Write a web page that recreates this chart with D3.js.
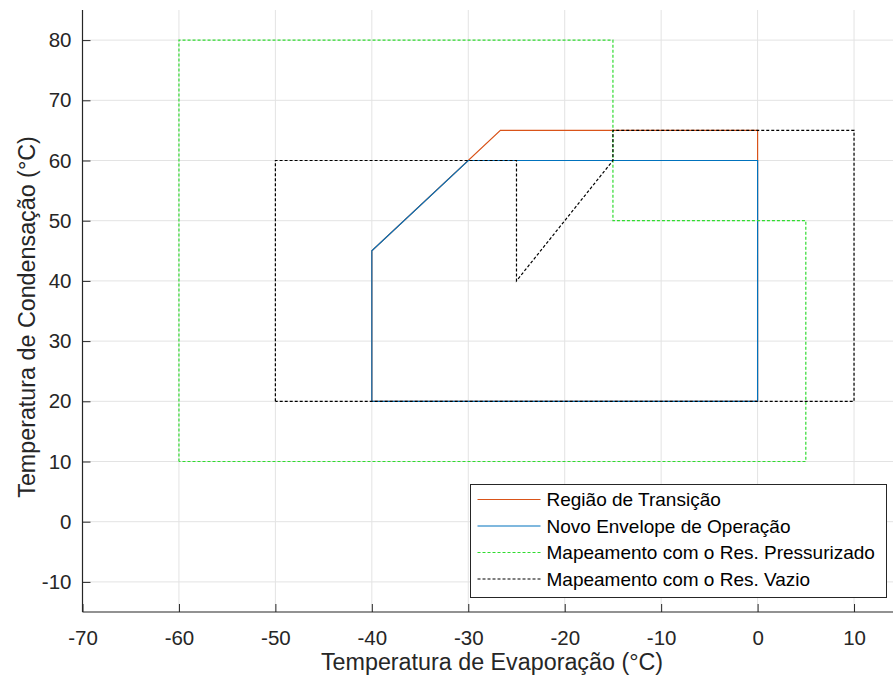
<!DOCTYPE html>
<html>
<head>
<meta charset="utf-8">
<script src="https://cdn.jsdelivr.net/npm/d3@7"></script>
<style>
  html, body { margin: 0; padding: 0; background: #fff; }
  svg { display: block; font-family: Arial, "Liberation Sans", Helvetica, sans-serif; }
</style>
</head>
<body>
<svg id="chart" width="893" height="682"></svg>
<script>
// Operating envelopes: evaporating temperature (x, °C) vs condensing temperature (y, °C)
const transicaoX = [-40, -40, -26.67, 0, 0, -40];
const transicaoY = [20, 45, 65, 65, 20, 20];

const envelopeX = [-40, -40, -30, 0, 0, -40];
const envelopeY = [20, 45, 60, 60, 20, 20];

const pressurizadoX = [-60, -60, -15, -15, 5, 5, -60];
const pressurizadoY = [10, 80, 80, 50, 50, 10, 10];

const vazioX = [-50, -50, -25, -25, -15, -15, 10, 10, -50];
const vazioY = [20, 60, 60, 40, 60, 65, 65, 20, 20];

const xTicks = [-70, -60, -50, -40, -30, -20, -10, 0, 10];
const yTicks = [-10, 0, 10, 20, 30, 40, 50, 60, 70, 80];

const seriesNames = [
  "Região de Transição",
  "Novo Envelope de Operação",
  "Mapeamento com o Res. Pressurizado",
  "Mapeamento com o Res. Vazio"
];

const series = [
  { name: seriesNames[0], xs: transicaoX, ys: transicaoY, color: "#D95319", dash: null },
  { name: seriesNames[1], xs: envelopeX, ys: envelopeY, color: "#0072BD", dash: null },
  { name: seriesNames[2], xs: pressurizadoX, ys: pressurizadoY, color: "#2fdc2f", dash: "3,2" },
  { name: seriesNames[3], xs: vazioX, ys: vazioY, color: "#000000", dash: "3,2" }
];

const svg = d3.select("#chart");
const plot = { left: 82.5, right: 893, top: 10, bottom: 612 };

const x = d3.scaleLinear().domain([-70, 14.04]).range([plot.left, plot.right]);
const y = d3.scaleLinear().domain([-15, 85]).range([plot.bottom, plot.top]);

const axisColor = "#262626";
const gridColor = "#e3e3e3";
const fontFam = "Arial, 'Liberation Sans', sans-serif";

// grid
const grid = svg.append("g");
grid.selectAll("line.vx").data(xTicks).join("line")
  .attr("x1", d => x(d)).attr("x2", d => x(d))
  .attr("y1", plot.top).attr("y2", plot.bottom)
  .attr("stroke", gridColor).attr("stroke-width", 1);
grid.selectAll("line.hy").data(yTicks).join("line")
  .attr("y1", d => y(d)).attr("y2", d => y(d))
  .attr("x1", plot.left).attr("x2", plot.right)
  .attr("stroke", gridColor).attr("stroke-width", 1);

// data lines
svg.append("clipPath").attr("id", "plotclip").append("rect")
  .attr("x", plot.left).attr("y", plot.top)
  .attr("width", plot.right - plot.left).attr("height", plot.bottom - plot.top);

const lineGen = d3.line().x(d => x(d[0])).y(d => y(d[1]));
const linesG = svg.append("g").attr("clip-path", "url(#plotclip)");
series.forEach(s => {
  const pts = s.xs.map((v, i) => [v, s.ys[i]]);
  linesG.append("path")
    .attr("d", lineGen(pts))
    .attr("fill", "none")
    .attr("stroke", s.color)
    .attr("stroke-width", 1.2)
    .attr("stroke-dasharray", s.dash)
    .attr("stroke-linejoin", "miter");
});

// axes
const fmt = d => String(d);
const xAxis = d3.axisBottom(x).tickValues(xTicks).tickSize(-8).tickPadding(18).tickFormat(fmt);
const yAxis = d3.axisLeft(y).tickValues(yTicks).tickSize(-8).tickPadding(11).tickFormat(fmt);

const gx = svg.append("g").attr("transform", `translate(0,${plot.bottom})`).call(xAxis);
const gy = svg.append("g").attr("transform", `translate(${plot.left},0)`).call(yAxis);

[gx, gy].forEach(g => {
  g.attr("font-family", fontFam);
  g.select(".domain").attr("stroke", axisColor).attr("stroke-width", 1.2);
  g.selectAll(".tick line").attr("stroke", axisColor).attr("stroke-width", 1);
  g.selectAll(".tick text").attr("fill", axisColor).attr("font-size", 20.5)
    .attr("font-family", fontFam);
});
gx.select(".domain").attr("d", `M${plot.left},0H${plot.right}`);
gy.select(".domain").attr("d", `M0,${plot.top}V${plot.bottom}`);
gx.selectAll(".tick text").attr("dy", "0.71em");

// axis titles
svg.append("text")
  .attr("x", 492).attr("y", 670)
  .attr("text-anchor", "middle").attr("font-size", 23.3).attr("fill", axisColor)
  .text("Temperatura de Evaporação (°C)");
svg.append("text")
  .attr("transform", "translate(35,317) rotate(-90)")
  .attr("text-anchor", "middle").attr("font-size", 23.3).attr("fill", axisColor)
  .text("Temperatura de Condensação (°C)");

// legend
const lg = svg.append("g").attr("transform", "translate(470.5,484.5)");
lg.append("rect").attr("width", 416).attr("height", 113)
  .attr("fill", "#fff").attr("stroke", "#262626").attr("stroke-width", 1);
series.forEach((s, i) => {
  const cy = 15 + i * 26.5;
  lg.append("line").attr("x1", 7).attr("x2", 70).attr("y1", cy).attr("y2", cy)
    .attr("stroke", s.color).attr("stroke-width", 1.2).attr("stroke-dasharray", s.dash);
  lg.append("text").attr("x", 76).attr("y", cy).attr("dy", "0.35em")
    .attr("font-size", 19).attr("fill", "#000").text(s.name);
});
</script>
</body>
</html>
